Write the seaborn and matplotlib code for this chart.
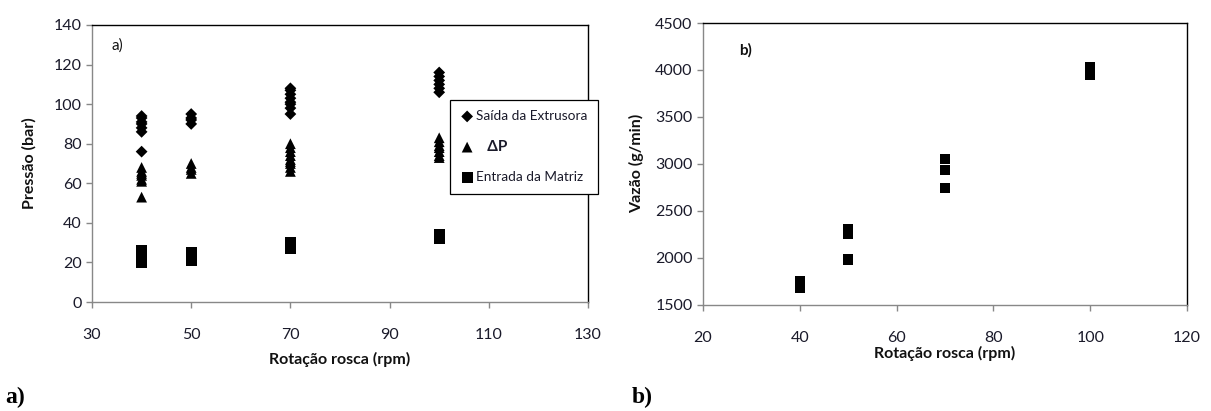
import matplotlib
matplotlib.use("Agg")
import matplotlib.pyplot as plt
import seaborn as sns
import pandas as pd

# ---- data ----
rpm_levels = [40, 50, 70, 100]
saida_bar = [[94, 93, 91, 90, 88, 86, 76],
             [95, 93, 92, 90],
             [108, 107, 105, 103, 101, 100, 98, 95],
             [116, 114, 112, 110, 108, 106]]
deltap_bar = [[68, 66, 65, 64, 62, 61, 53],
              [70, 68, 67, 65],
              [80, 78, 76, 74, 72, 71, 70, 68, 66],
              [83, 81, 79, 78, 76, 74, 73]]
entrada_bar = [[26, 25, 23, 21, 20],
               [25, 23, 21],
               [30, 29, 27],
               [34, 32]]
vazao_gmin = [[1750, 1710, 1680],
              [2300, 2250, 1980],
              [3050, 2930, 2740],
              [4030, 3990, 3950]]

series_names = ["Saída da Extrusora", "ΔP", "Entrada da Matriz"]
xticks_a = [30, 50, 70, 90, 110, 130]
yticks_a = [0, 20, 40, 60, 80, 100, 120, 140]
xticks_b = [20, 40, 60, 80, 100, 120]
yticks_b = [1500, 2000, 2500, 3000, 3500, 4000, 4500]


def to_df(levels, groups):
    rows = [(r, v) for r, g in zip(levels, groups) for v in g]
    return pd.DataFrame(rows, columns=["rpm", "val"])


sns.set_theme(style="white")
plt.rcParams['font.family'] = ['Lato', 'DejaVu Sans']

fig = plt.figure(figsize=(12.11, 4.11), dpi=100)
W, H = 1211, 411
ax1 = fig.add_axes([92 / W, 1 - 302 / H, (588 - 92) / W, (302 - 25) / H])
ax2 = fig.add_axes([703 / W, 1 - 304.5 / H, (1187 - 703) / W, (304.5 - 23) / H])

txt = "#1a1a2a"
lab = "#111111"

# ---- panel a ----
d = to_df(rpm_levels, saida_bar)
sns.scatterplot(data=d, x="rpm", y="val", ax=ax1, marker="D", s=36, color="black",
                edgecolor="none", label=series_names[0], zorder=3)
d = to_df(rpm_levels, deltap_bar)
sns.scatterplot(data=d, x="rpm", y="val", ax=ax1, marker="^", s=60, color="black",
                edgecolor="none", label="   " + series_names[1], zorder=3)
d = to_df(rpm_levels, entrada_bar)
sns.scatterplot(data=d, x="rpm", y="val", ax=ax1, marker="s", s=64, color="black",
                edgecolor="none", label=series_names[2], zorder=3)

ax1.set_xlim(30, 130)
ax1.set_ylim(0, 140)
ax1.set_xticks(xticks_a)
ax1.set_yticks(yticks_a)
ax1.set_xlabel("Rotação rosca (rpm)", fontsize=11.5, fontweight="bold", color=lab, labelpad=7)
ax1.set_ylabel("Pressão (bar)", fontsize=11.5, fontweight="bold", color=lab, labelpad=12)
ax1.text(0.04, 0.91, "a)", transform=ax1.transAxes, fontsize=11, color=lab)

leg = ax1.legend(loc="upper left", bbox_to_anchor=(0.722, 0.73), frameon=True,
                 fancybox=False, framealpha=1, edgecolor="black", fontsize=9.8,
                 labelspacing=1.3, handletextpad=0.15, borderpad=0.75,
                 handlelength=1.0, borderaxespad=0)
leg.get_frame().set_linewidth(0.9)
leg.set_zorder(10)
for t in leg.get_texts():
    t.set_color(txt)
leg.get_texts()[1].set_fontweight("bold")
leg.get_texts()[1].set_fontsize(11)

# ---- panel b ----
d = to_df(rpm_levels, vazao_gmin)
sns.scatterplot(data=d, x="rpm", y="val", ax=ax2, marker="s", s=55, color="black",
                edgecolor="none", zorder=3)
ax2.set_xlim(20, 120)
ax2.set_ylim(1500, 4500)
ax2.set_xticks(xticks_b)
ax2.set_yticks(yticks_b)
ax2.set_xlabel("Rotação rosca (rpm)", fontsize=11.5, fontweight="bold", color=lab, labelpad=1)
ax2.set_ylabel("Vazão (g/min)", fontsize=11.5, fontweight="bold", color=lab, labelpad=8)
ax2.text(0.075, 0.887, "b)", transform=ax2.transAxes, fontsize=11, fontweight="bold", color=lab)

for ax in (ax1, ax2):
    for s in ("left", "bottom"):
        ax.spines[s].set_color("#888888")
        ax.spines[s].set_linewidth(1.0)
    for s in ("top", "right"):
        ax.spines[s].set_color("black")
        ax.spines[s].set_linewidth(1.0)
    ax.tick_params(axis="both", direction="out", length=4, width=1, color="#888888",
                   labelsize=11.5, labelcolor=txt, left=True, bottom=True)
    ax.tick_params(axis="x", pad=15)
    ax.grid(False)
ax2.tick_params(axis="x", pad=15)

fig.text(5 / W, 1 - 403 / H, "a)", fontsize=17, fontweight="bold",
         family="Liberation Serif", color="black")
fig.text(632 / W, 1 - 403 / H, "b)", fontsize=17, fontweight="bold",
         family="Liberation Serif", color="black")

fig.savefig("out.png", dpi=100, facecolor="white")
